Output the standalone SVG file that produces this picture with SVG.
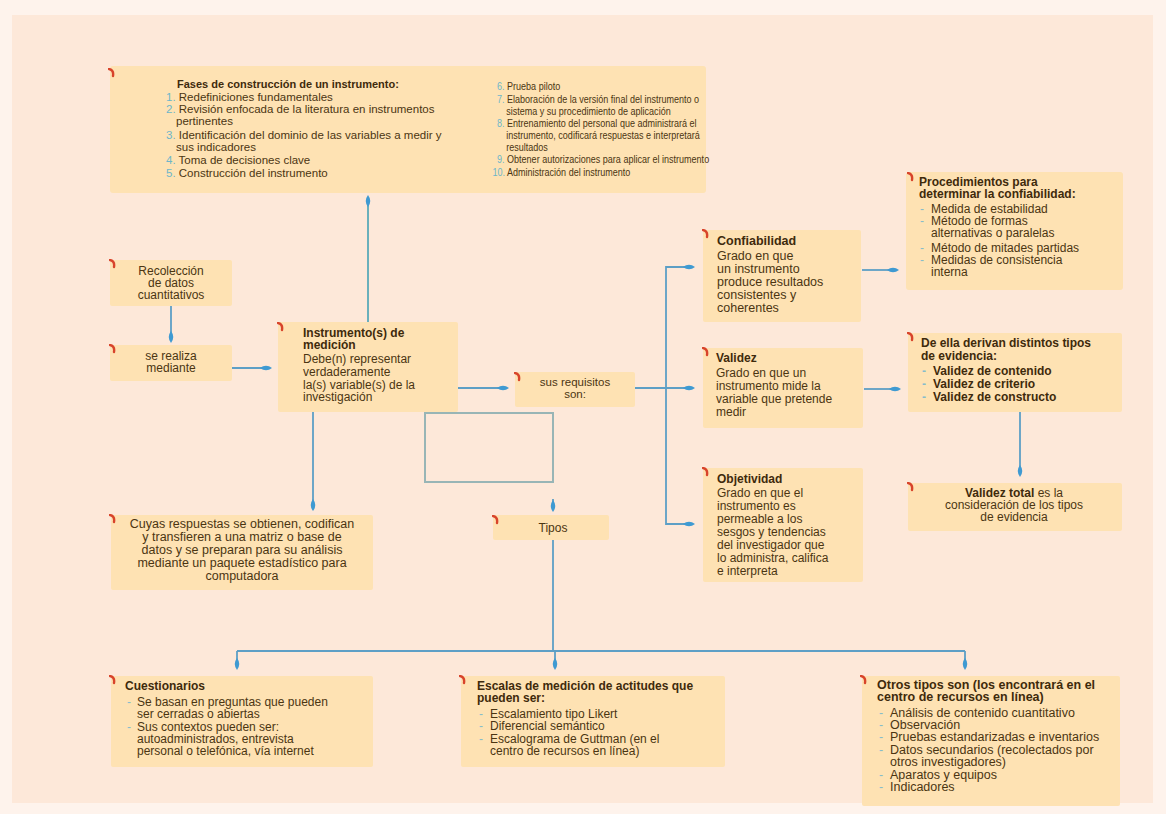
<svg xmlns="http://www.w3.org/2000/svg" xmlns:xlink="http://www.w3.org/1999/xlink" width="1166" height="814" viewBox="0 0 1166 814">
<style>
.bx{fill:#fee2b3}
.t{font-family:"Liberation Sans",Arial,sans-serif;fill:#4b3512}
.b{font-weight:bold;fill:#3e2a0c}
.c{text-anchor:middle}
.n{fill:#6db6c9}
.d{fill:#86bccb}
.ln{fill:none;stroke:#5d9fc6;stroke-width:1.8}
</style>
<defs>
<marker id="ah" markerUnits="userSpaceOnUse" markerWidth="16" markerHeight="10" refX="8" refY="5" orient="auto" viewBox="0 0 16 10">
<path d="M2,5 Q8,0.5 14,5 Q8,9.5 2,5 Z" fill="#3f9ad2"/>
</marker>
<symbol id="mk" viewBox="0 0 8 10" width="8" height="10">
<path d="M1,1 Q6,2 5,8" fill="none" stroke="#d8432a" stroke-width="2.4" stroke-linecap="round"/>
</symbol>
</defs>
<rect width="1166" height="814" fill="#fef3ec"/>
<rect x="12" y="15" width="1141" height="788" fill="#fde8d9"/>

<g id="fases">
<rect class="bx" x="110" y="66" width="596" height="127" rx="3"/>
<use href="#mk" x="108" y="68"/>
<g font-size="11.5">
<text class="t b" x="177" y="88" font-size="11">Fases de construcción de un instrumento:</text>
<text class="t" x="166" y="101"><tspan class="n">1.</tspan> Redefiniciones fundamentales</text>
<text class="t" x="166" y="113"><tspan class="n">2.</tspan> Revisión enfocada de la literatura en instrumentos</text>
<text class="t" x="176" y="125">pertinentes</text>
<text class="t" x="166" y="139"><tspan class="n">3.</tspan> Identificación del dominio de las variables a medir y</text>
<text class="t" x="176" y="151">sus indicadores</text>
<text class="t" x="166" y="164"><tspan class="n">4.</tspan> Toma de decisiones clave</text>
<text class="t" x="166" y="177"><tspan class="n">5.</tspan> Construcción del instrumento</text>
</g>
<g font-size="11.8" transform="translate(497,0) scale(0.765,1) translate(-497,0)">
<text class="t" x="497" y="90"><tspan class="n">6.</tspan> Prueba piloto</text>
<text class="t" x="497" y="103"><tspan class="n">7.</tspan> Elaboración de la versión final del instrumento o</text>
<text class="t" x="509" y="115">sistema y su procedimiento de aplicación</text>
<text class="t" x="497" y="127"><tspan class="n">8.</tspan> Entrenamiento del personal que administrará el</text>
<text class="t" x="509" y="139">instrumento, codificará respuestas e interpretará</text>
<text class="t" x="509" y="151">resultados</text>
<text class="t" x="497" y="163"><tspan class="n">9.</tspan> Obtener autorizaciones para aplicar el instrumento</text>
<text class="t" x="491" y="176"><tspan class="n">10.</tspan> Administración del instrumento</text>
</g>
</g>

<g id="procedimientos" font-size="12">
<rect class="bx" x="906" y="172" width="217" height="118" rx="3"/>
<use href="#mk" x="907" y="172"/>
<text class="t b" x="919" y="186">Procedimientos para</text>
<text class="t b" x="919" y="198">determinar la confiabilidad:</text>
<text class="t" x="920" y="213"><tspan class="d">-</tspan><tspan x="931">Medida de estabilidad</tspan></text>
<text class="t" x="920" y="225"><tspan class="d">-</tspan><tspan x="931">Método de formas</tspan></text>
<text class="t" x="931" y="237">alternativas o paralelas</text>
<text class="t" x="920" y="252"><tspan class="d">-</tspan><tspan x="931">Método de mitades partidas</tspan></text>
<text class="t" x="920" y="264"><tspan class="d">-</tspan><tspan x="931">Medidas de consistencia</tspan></text>
<text class="t" x="931" y="276">interna</text>
</g>

<g id="recoleccion" font-size="12">
<rect class="bx" x="110" y="260" width="122" height="46" rx="2"/>
<use href="#mk" x="109" y="259"/>
<text class="t c" x="171" y="275">Recolección</text>
<text class="t c" x="171" y="287">de datos</text>
<text class="t c" x="171" y="299">cuantitativos</text>
</g>

<g id="serealiza" font-size="12">
<rect class="bx" x="110" y="345" width="122" height="36" rx="2"/>
<use href="#mk" x="109" y="344"/>
<text class="t c" x="171" y="360">se realiza</text>
<text class="t c" x="171" y="372">mediante</text>
</g>

<g id="instrumento" font-size="12">
<rect class="bx" x="278" y="322" width="180" height="90" rx="2"/>
<use href="#mk" x="277" y="322"/>
<text class="t b" x="303" y="337">Instrumento(s) de</text>
<text class="t b" x="303" y="349">medición</text>
<text class="t" x="303" y="363">Debe(n) representar</text>
<text class="t" x="303" y="376">verdaderamente</text>
<text class="t" x="303" y="389">la(s) variable(s) de la</text>
<text class="t" x="303" y="401">investigación</text>
</g>

<g id="frame">
<rect x="425" y="413" width="128" height="69" fill="none" stroke="#98b5b6" stroke-width="2"/>
</g>

<g id="requisitos" font-size="11.5">
<rect class="bx" x="515" y="372" width="120" height="35" rx="2"/>
<use href="#mk" x="514" y="372"/>
<text class="t c" x="575" y="386">sus requisitos</text>
<text class="t c" x="575" y="398">son:</text>
</g>

<g id="confiabilidad" font-size="12.5">
<rect class="bx" x="703" y="230" width="158" height="92" rx="2"/>
<use href="#mk" x="702" y="229"/>
<text class="t b" x="717" y="245">Confiabilidad</text>
<text class="t" x="717" y="260">Grado en que</text>
<text class="t" x="717" y="273">un instrumento</text>
<text class="t" x="717" y="286">produce resultados</text>
<text class="t" x="717" y="299">consistentes y</text>
<text class="t" x="717" y="312">coherentes</text>
</g>

<g id="validez" font-size="12">
<rect class="bx" x="703" y="348" width="160" height="80" rx="2"/>
<use href="#mk" x="702" y="347"/>
<text class="t b" x="716" y="362">Validez</text>
<text class="t" x="716" y="377">Grado en que un</text>
<text class="t" x="716" y="390">instrumento mide la</text>
<text class="t" x="716" y="403">variable que pretende</text>
<text class="t" x="716" y="416">medir</text>
</g>

<g id="deella" font-size="12">
<rect class="bx" x="908" y="333" width="214" height="79" rx="2"/>
<use href="#mk" x="907" y="332"/>
<text class="t b" x="921" y="347">De ella derivan distintos tipos</text>
<text class="t b" x="921" y="360">de evidencia:</text>
<text class="t b" x="922" y="375"><tspan class="d">-</tspan><tspan x="933">Validez de contenido</tspan></text>
<text class="t b" x="922" y="388"><tspan class="d">-</tspan><tspan x="933">Validez de criterio</tspan></text>
<text class="t b" x="922" y="401"><tspan class="d">-</tspan><tspan x="933">Validez de constructo</tspan></text>
</g>

<g id="valideztotal" font-size="12">
<rect class="bx" x="908" y="483" width="214" height="48" rx="2"/>
<use href="#mk" x="907" y="482"/>
<text class="t c" x="1014" y="497"><tspan class="b">Validez total</tspan> es la</text>
<text class="t c" x="1014" y="509">consideración de los tipos</text>
<text class="t c" x="1014" y="521">de evidencia</text>
</g>

<g id="objetividad" font-size="12">
<rect class="bx" x="703" y="468" width="160" height="114" rx="2"/>
<use href="#mk" x="702" y="467"/>
<text class="t b" x="717" y="483">Objetividad</text>
<text class="t" x="717" y="497">Grado en que el</text>
<text class="t" x="717" y="510">instrumento es</text>
<text class="t" x="717" y="523">permeable a los</text>
<text class="t" x="717" y="536">sesgos y tendencias</text>
<text class="t" x="717" y="549">del investigador que</text>
<text class="t" x="717" y="562">lo administra, califica</text>
<text class="t" x="717" y="575">e interpreta</text>
</g>

<g id="cuyas" font-size="12.5">
<rect class="bx" x="111" y="515" width="262" height="75" rx="2"/>
<use href="#mk" x="109" y="514"/>
<text class="t c" x="242" y="528">Cuyas respuestas se obtienen, codifican</text>
<text class="t c" x="242" y="541">y transfieren a una matriz o base de</text>
<text class="t c" x="242" y="554">datos y se preparan para su análisis</text>
<text class="t c" x="242" y="567">mediante un paquete estadístico para</text>
<text class="t c" x="242" y="580">computadora</text>
</g>

<g id="tipos" font-size="12">
<rect class="bx" x="493" y="515" width="116" height="25" rx="2"/>
<use href="#mk" x="492" y="515"/>
<text class="t c" x="553" y="532">Tipos</text>
</g>

<g id="cuestionarios" font-size="12">
<rect class="bx" x="111" y="676" width="262" height="91" rx="2"/>
<use href="#mk" x="109" y="675"/>
<text class="t b" x="125" y="690">Cuestionarios</text>
<text class="t" x="127" y="706"><tspan class="d">-</tspan><tspan x="137">Se basan en preguntas que pueden</tspan></text>
<text class="t" x="137" y="718">ser cerradas o abiertas</text>
<text class="t" x="127" y="731"><tspan class="d">-</tspan><tspan x="137">Sus contextos pueden ser:</tspan></text>
<text class="t" x="137" y="743">autoadministrados, entrevista</text>
<text class="t" x="137" y="755">personal o telefónica, vía internet</text>
</g>

<g id="escalas" font-size="12">
<rect class="bx" x="461" y="676" width="264" height="91" rx="2"/>
<use href="#mk" x="459" y="675"/>
<text class="t b" x="477" y="690">Escalas de medición de actitudes que</text>
<text class="t b" x="477" y="702">pueden ser:</text>
<text class="t" x="479" y="718"><tspan class="d">-</tspan><tspan x="490">Escalamiento tipo Likert</tspan></text>
<text class="t" x="479" y="730"><tspan class="d">-</tspan><tspan x="490">Diferencial semántico</tspan></text>
<text class="t" x="479" y="743"><tspan class="d">-</tspan><tspan x="490">Escalograma de Guttman (en el</tspan></text>
<text class="t" x="490" y="755">centro de recursos en línea)</text>
</g>

<g id="otros" font-size="12.5">
<rect class="bx" x="862" y="676" width="258" height="130" rx="2"/>
<use href="#mk" x="860" y="675"/>
<text class="t b" x="877" y="689">Otros tipos son (los encontrará en el</text>
<text class="t b" x="877" y="701">centro de recursos en línea)</text>
<text class="t" x="879" y="717"><tspan class="d">-</tspan><tspan x="890">Análisis de contenido cuantitativo</tspan></text>
<text class="t" x="879" y="729"><tspan class="d">-</tspan><tspan x="890">Observación</tspan></text>
<text class="t" x="879" y="741"><tspan class="d">-</tspan><tspan x="890">Pruebas estandarizadas e inventarios</tspan></text>
<text class="t" x="879" y="754"><tspan class="d">-</tspan><tspan x="890">Datos secundarios (recolectados por</tspan></text>
<text class="t" x="890" y="766">otros investigadores)</text>
<text class="t" x="879" y="779"><tspan class="d">-</tspan><tspan x="890">Aparatos y equipos</tspan></text>
<text class="t" x="879" y="791"><tspan class="d">-</tspan><tspan x="890">Indicadores</tspan></text>
</g>

<g id="connectors">
<path class="ln" d="M171,306 V337" marker-end="url(#ah)"/>
<path class="ln" d="M232,368 H266" marker-end="url(#ah)"/>
<path class="ln" d="M368,322 V201" marker-end="url(#ah)" style="stroke:#5aaab8"/>
<path class="ln" d="M313,412 V505" marker-end="url(#ah)"/>
<path class="ln" d="M458,388 H503" marker-end="url(#ah)"/>
<path class="ln" d="M553,499 V506" marker-end="url(#ah)"/>
<path class="ln" d="M635,388 H689" marker-end="url(#ah)"/>
<path class="ln" d="M690,267 H666 V524 H689" marker-end="url(#ah)"/>
<path class="ln" d="M666,267 H689" marker-end="url(#ah)"/>
<path class="ln" d="M862,270 H893" marker-end="url(#ah)"/>
<path class="ln" d="M864,389 H895" marker-end="url(#ah)"/>
<path class="ln" d="M1020,412 V471" marker-end="url(#ah)"/>
<path class="ln" d="M553,540 V651"/>
<path class="ln" d="M237,651 H965"/>
<path class="ln" d="M237,651 V664" marker-end="url(#ah)"/>
<path class="ln" d="M555,651 V664" marker-end="url(#ah)"/>
<path class="ln" d="M965,651 V664" marker-end="url(#ah)"/>
</g>
</svg>
